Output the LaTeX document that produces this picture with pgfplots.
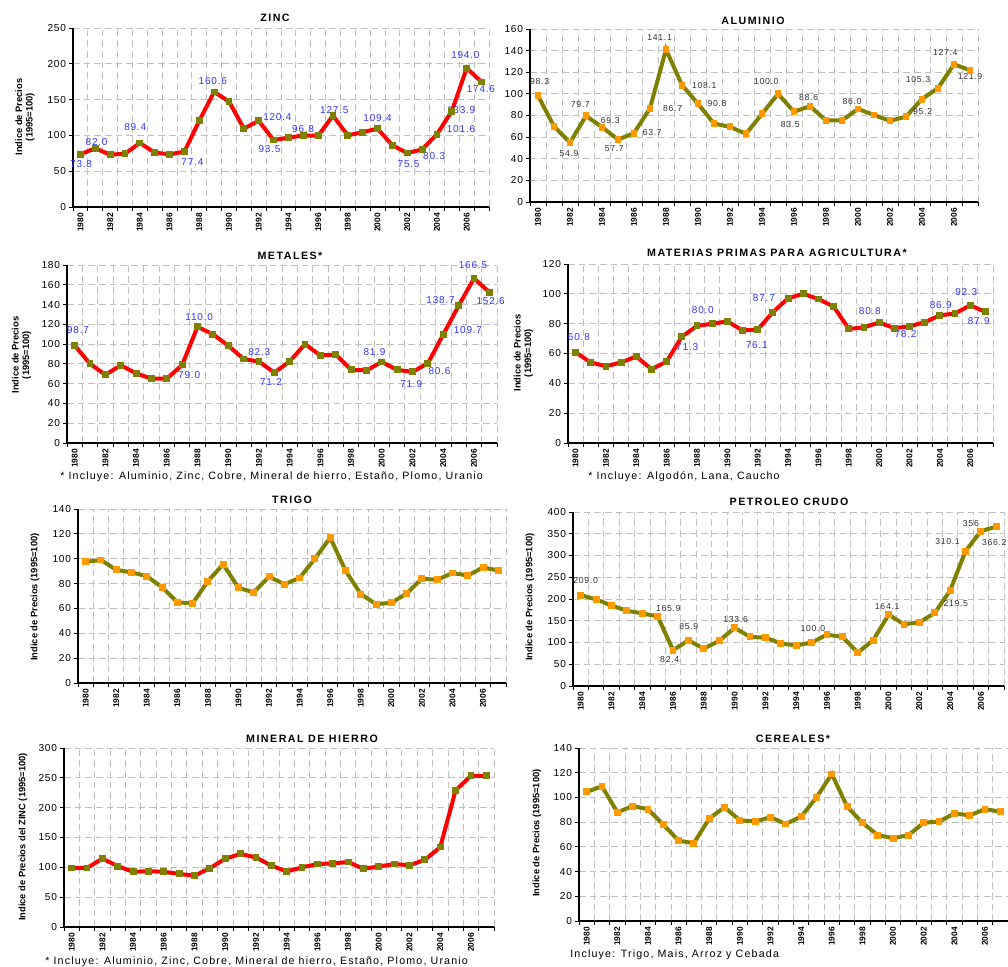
\documentclass[border=0pt]{standalone}
\usepackage{fontspec}
\setmainfont{Liberation Sans}
\newfontfamily\spc[LetterSpace=8]{Liberation Sans}
\newfontfamily\fnf[LetterSpace=11]{Liberation Sans}
\newfontfamily\ttl[LetterSpace=14]{Liberation Sans}
\usepackage{pgfplots}
\pgfplotsset{compat=1.18}

\definecolor{olv}{HTML}{808000}
\definecolor{org}{HTML}{FF9900}
\definecolor{labblue}{HTML}{3333FF}
\definecolor{labgray}{HTML}{303030}
\definecolor{gridc}{HTML}{C0C0C0}

\pgfplotsset{
  panel/.style={
    scale only axis,
    xmin=1979.5, xmax=2007.5, ymin=0,
    axis x line*=bottom, axis y line*=left,
    axis line style={black, line width=0.8pt},
    tick align=outside,
    xtick={1980,1982,...,2006},
    major x tick style={draw=none},
    minor xtick={1979.5,1980.5,...,2007.5},
    minor tick length=3pt, major tick length=3pt,
    every tick/.style={black, line width=0.6pt},
    xminorgrids, ymajorgrids,
    minor grid style={gridc, line width=0.6pt, dash pattern=on 5pt off 3pt},
    major grid style={gridc, line width=0.6pt, dash pattern=on 5pt off 3pt},
    /pgf/number format/1000 sep={},
    /pgf/number format/assume math mode=true,
    xticklabel style={rotate=90, anchor=east, font=\bfseries\fontsize{6.3}{6.3}\selectfont, inner sep=1.5pt},
    yticklabel style={font=\spc\fontsize{7.6}{8}\selectfont, inner sep=2pt},
    clip=false,
  },
  redline/.style={red, line width=3pt, mark=square*, mark size=2.2pt,
    mark options={draw=olv, fill=olv, line width=0pt}},
  olvline/.style={olv, line width=3pt, mark=square*, mark size=2.2pt,
    mark options={draw=org, fill=org, line width=0pt}},
}
\tikzset{
  lb/.style={font=\spc\fontsize{7.5}{8}\selectfont, text=labblue, inner sep=0pt},
  lg/.style={font=\spc\fontsize{6.5}{7}\selectfont, text=labgray, inner sep=0pt},
  tt/.style={font=\ttl\bfseries\fontsize{8}{9}\selectfont, inner sep=0pt},
  yl/.style={font=\bfseries\fontsize{7}{8}\selectfont, rotate=90, align=center, inner sep=0pt},
  fn/.style={font=\fnf\fontsize{8}{9}\selectfont, anchor=west, inner sep=0pt},
}
\newcommand{\lab}[6]{\node[#1, xshift=#5pt, yshift=#6pt] at (axis cs:#2,#3) {#4};}

\begin{document}
\begin{tikzpicture}
\path[use as bounding box] (0,0) rectangle (756pt,-725.25pt);

% ZINC
\begin{axis}[panel, at={(73*0.75pt,-207*0.75pt)}, anchor=south west,
  width=416*0.75pt, height=179*0.75pt, ymax=250, ytick={0,50,...,250}]
\addplot[redline] coordinates {
(1980,73.8) (1981,82.0) (1982,73) (1983,74.5) (1984,89.4) (1985,76) (1986,73.5)
(1987,77.4) (1988,120.5) (1989,160.6) (1990,147.5) (1991,109.5) (1992,120.4)
(1993,93.5) (1994,96.8) (1995,100) (1996,99.5) (1997,127.5) (1998,100)
(1999,104.5) (2000,109.4) (2001,86) (2002,75.5) (2003,80.3) (2004,101.6)
(2005,133.9) (2006,194.0) (2007,174.6)};
\lab{lb}{1980}{73.8}{73.8}{0.5}{-7.5}
\lab{lb}{1981}{82.0}{82.0}{1}{5}
\lab{lb}{1984}{89.4}{89.4}{-3.5}{12}
\lab{lb}{1987}{77.4}{77.4}{6}{-8}
\lab{lb}{1989}{160.6}{160.6}{-1}{8}
\lab{lb}{1992}{120.4}{120.4}{14}{3}
\lab{lb}{1993}{93.5}{93.5}{-3}{-7}
\lab{lb}{1994}{96.8}{96.8}{11}{6.5}
\lab{lb}{1997}{127.5}{127.5}{1}{4.5}
\lab{lb}{2000}{109.4}{109.4}{0}{8}
\lab{lb}{2002}{75.5}{75.5}{1}{-8}
\lab{lb}{2003}{80.3}{80.3}{9}{-5}
\lab{lb}{2004}{101.6}{101.6}{18}{4}
\lab{lb}{2005}{133.9}{133.9}{7}{1}
\lab{lb}{2006}{194.0}{194.0}{-1}{10}
\lab{lb}{2007}{174.6}{174.6}{-0.5}{-5}
\end{axis}

% ALUMINIO
\begin{axis}[panel, at={(530*0.75pt,-202*0.75pt)}, anchor=south west,
  width=448*0.75pt, height=173*0.75pt, ymax=160, ytick={0,20,...,160}]
\addplot[olvline] coordinates {
(1980,98.3) (1981,70) (1982,54.9) (1983,79.7) (1984,69.3) (1985,57.7) (1986,63.7)
(1987,86.7) (1988,141.1) (1989,108.1) (1990,90.8) (1991,72.5) (1992,69.5)
(1993,63) (1994,81.5) (1995,100.0) (1996,83.5) (1997,88.6) (1998,75.5)
(1999,75.5) (2000,86.0) (2001,80.5) (2002,75) (2003,79) (2004,95.2)
(2005,105.3) (2006,127.4) (2007,121.9)};
\lab{lg}{1980}{98.3}{98.3}{1.25}{11}
\lab{lg}{1982}{54.9}{54.9}{-0.75}{-8.25}
\lab{lg}{1983}{79.7}{79.7}{-4.25}{8.75}
\lab{lg}{1984}{69.3}{69.3}{6.25}{5}
\lab{lg}{1985}{57.7}{57.7}{-2.75}{-6.75}
\lab{lg}{1986}{63.7}{63.7}{13.75}{0.5}
\lab{lg}{1987}{86.7}{86.7}{17}{0}
\lab{lg}{1988}{141.1}{141.1}{-4.75}{9.25}
\lab{lg}{1989}{108.1}{108.1}{16.75}{0}
\lab{lg}{1990}{90.8}{90.8}{14.25}{0}
\lab{lg}{1995}{100.0}{100.0}{-8.75}{9.5}
\lab{lg}{1996}{83.5}{83.5}{-2.75}{-9.5}
\lab{lg}{1997}{88.6}{88.6}{-1}{6.5}
\lab{lg}{2000}{86.0}{86.0}{-4.5}{5.75}
\lab{lg}{2004}{95.2}{95.2}{0.5}{-9.25}
\lab{lg}{2005}{105.3}{105.3}{-15}{6.75}
\lab{lg}{2006}{127.4}{127.4}{-6.5}{9}
\lab{lg}{2007}{121.9}{121.9}{0}{-4.75}
\end{axis}

% METALES
\begin{axis}[panel, at={(67*0.75pt,-443*0.75pt)}, anchor=south west,
  width=430*0.75pt, height=178*0.75pt, ymax=180, ytick={0,20,...,180}]
\addplot[redline] coordinates {
(1980,98.7) (1981,80) (1982,69) (1983,78.5) (1984,70.5) (1985,65) (1986,65)
(1987,79.0) (1988,117.5) (1989,110.0) (1990,98.5) (1991,85) (1992,82.3)
(1993,71.2) (1994,82.5) (1995,100) (1996,88.5) (1997,89.5) (1998,74)
(1999,73.5) (2000,81.9) (2001,74) (2002,71.9) (2003,80.6) (2004,109.7)
(2005,138.7) (2006,166.5) (2007,152.6)};
\lab{lb}{1980}{98.7}{98.7}{2.5}{11.5}
\lab{lb}{1988}{117.5}{110.0}{1.25}{7.5}
\lab{lb}{1987}{79.0}{79.0}{5.25}{-7.75}
\lab{lb}{1992}{82.3}{82.3}{0.25}{7.25}
\lab{lb}{1993}{71.2}{71.2}{-2.5}{-7}
\lab{lb}{2000}{81.9}{81.9}{-5.5}{7.5}
\lab{lb}{2002}{71.9}{71.9}{-1}{-8.75}
\lab{lb}{2003}{80.6}{80.6}{8.75}{-5.5}
\lab{lb}{2004}{109.7}{109.7}{18.5}{3.25}
\lab{lb}{2005}{138.7}{138.7}{-13.5}{4.25}
\lab{lb}{2006}{166.5}{166.5}{-0.75}{10}
\lab{lb}{2007}{152.6}{152.6}{1}{-6.75}
\end{axis}

% MATERIAS PRIMAS
\begin{axis}[panel, at={(568*0.75pt,-443*0.75pt)}, anchor=south west,
  width=425*0.75pt, height=179*0.75pt, ymax=120, ytick={0,20,...,120}]
\addplot[redline] coordinates {
(1980,60.8) (1981,54) (1982,51.5) (1983,54) (1984,58) (1985,49.5) (1986,54.5)
(1987,71.3) (1988,78.5) (1989,80.0) (1990,81.5) (1991,75.5) (1992,76.1)
(1993,87.7) (1994,97) (1995,100) (1996,96.5) (1997,91.5) (1998,76.5)
(1999,77.5) (2000,80.8) (2001,77) (2002,78.2) (2003,81) (2004,85.5)
(2005,86.9) (2006,92.3) (2007,87.9)};
\lab{lb}{1980}{60.8}{60.8}{2.5}{11.25}
\lab{lb}{1987}{71.3}{71.3}{4}{-7.5}
\lab{lb}{1989}{80.0}{80.0}{-7}{10.5}
\lab{lb}{1992}{76.1}{76.1}{-0.75}{-12}
\lab{lb}{1993}{87.7}{87.7}{-6.75}{10.5}
\lab{lb}{2000}{80.8}{80.8}{-7}{8.25}
\lab{lb}{2002}{78.2}{78.2}{-3}{-6}
\lab{lb}{2005}{86.9}{86.9}{-10.75}{6.5}
\lab{lb}{2006}{92.3}{92.3}{-3}{9.75}
\lab{lb}{2007}{87.9}{87.9}{-5}{-6.75}
\end{axis}

% TRIGO
\begin{axis}[panel, at={(78*0.75pt,-683*0.75pt)}, anchor=south west,
  width=428*0.75pt, height=174*0.75pt, ymax=140, ytick={0,20,...,140}]
\addplot[olvline] coordinates {
(1980,97.5) (1981,99) (1982,91) (1983,89) (1984,86) (1985,77) (1986,65)
(1987,64) (1988,82) (1989,95.5) (1990,76.5) (1991,73) (1992,85.5)
(1993,79.5) (1994,84.5) (1995,100) (1996,117) (1997,90.5) (1998,71.5)
(1999,63.5) (2000,64.5) (2001,72) (2002,84) (2003,83) (2004,88.5)
(2005,86.5) (2006,93) (2007,90.5)};
\end{axis}

% PETROLEO CRUDO
\begin{axis}[panel, at={(573*0.75pt,-686*0.75pt)}, anchor=south west,
  width=431*0.75pt, height=174*0.75pt, ymax=400, ytick={0,50,...,400}]
\addplot[olvline] coordinates {
(1980,209.0) (1981,199) (1982,185) (1983,173) (1984,167) (1985,160) (1986,82.4)
(1987,105) (1988,86) (1989,104) (1990,133.6) (1991,113) (1992,111)
(1993,98) (1994,93) (1995,100) (1996,118) (1997,113) (1998,77)
(1999,105) (2000,164.1) (2001,142) (2002,146) (2003,168) (2004,219.5)
(2005,310.1) (2006,356) (2007,366.2)};
\lab{lg}{1980}{209.0}{209.0}{3.75}{11}
\lab{lg}{1985}{160}{165.9}{8}{6.25}
\lab{lg}{1986}{82.4}{82.4}{-2.5}{-7.25}
\lab{lg}{1987}{105}{85.9}{0.25}{10}
\lab{lg}{1990}{133.6}{133.6}{0.75}{6.25}
\lab{lg}{1995}{100}{100.0}{1}{10.75}
\lab{lg}{2000}{164.1}{164.1}{-1}{6}
\lab{lg}{2004}{219.5}{219.5}{4.25}{-10}
\lab{lg}{2005}{310.1}{310.1}{-13.5}{7.25}
\lab{lg}{2006}{356}{356}{-7.5}{5.75}
\lab{lg}{2007}{366.2}{366.2}{-1.5}{-11.5}
\end{axis}

% MINERAL DE HIERRO
\begin{axis}[panel, at={(64*0.75pt,-927*0.75pt)}, anchor=south west,
  width=430*0.75pt, height=179*0.75pt, ymax=300, ytick={0,50,...,300}]
\addplot[redline] coordinates {
(1980,99) (1981,99) (1982,114.5) (1983,102) (1984,92.5) (1985,93.5) (1986,92.5)
(1987,89) (1988,86) (1989,98.5) (1990,114.5) (1991,122.5) (1992,116.5)
(1993,103) (1994,93) (1995,100) (1996,105.5) (1997,106.5) (1998,109)
(1999,97.5) (2000,101.5) (2001,105.5) (2002,103.5) (2003,112.5) (2004,134)
(2005,229) (2006,253.5) (2007,253.5)};
\end{axis}

% CEREALES
\begin{axis}[panel, at={(579*0.75pt,-921*0.75pt)}, anchor=south west,
  width=429*0.75pt, height=173*0.75pt, ymax=140, ytick={0,20,...,140}]
\addplot[olvline] coordinates {
(1980,104.5) (1981,109) (1982,88) (1983,93) (1984,90.5) (1985,78) (1986,65)
(1987,63) (1988,83) (1989,92) (1990,81.5) (1991,80.5) (1992,84)
(1993,78.5) (1994,84.5) (1995,100) (1996,119) (1997,92.5) (1998,79.5)
(1999,69.5) (2000,67) (2001,69.5) (2002,79.5) (2003,80.5) (2004,87)
(2005,85.5) (2006,90.5) (2007,88.5)};
\end{axis}

% titles, axis titles, notes (positions in pixels of the reference)
\begin{scope}[x=0.75pt, y=-0.75pt]
\node[tt] at (275,18) {ZINC};
\node[tt] at (753,21) {ALUMINIO};
\node[tt] at (290,256) {METALES*};
\node[tt] at (777,253) {MATERIAS PRIMAS PARA AGRICULTURA*};
\node[tt] at (292,500) {TRIGO};
\node[tt] at (789,502) {PETROLEO CRUDO};
\node[tt] at (312,739) {MINERAL DE HIERRO};
\node[tt] at (793,739) {CEREALES*};
\node[yl] at (25,117) {Indice de Precios\\(1995=100)};
\node[yl] at (21.5,355) {Indice de Precios\\(1995=100)};
\node[yl] at (523.5,353) {Indice de Precios\\(1995=100)};
\node[yl] at (35,597) {Indice de Precios (1995=100)};
\node[yl] at (530,597) {Indice de Precios (1995=100)};
\node[yl] at (23,837) {Indice de Precios del ZINC (1995=100)};
\node[yl] at (537,833) {Indice de Precios (1995=100)};
\node[fn] at (60,477) {* Incluye: Aluminio, Zinc, Cobre, Mineral de hierro, Estaño, Plomo, Uranio};
\node[fn] at (588,477) {* Incluye: Algodón, Lana, Caucho};
\node[fn] at (45,962) {* Incluye: Aluminio, Zinc, Cobre, Mineral de hierro, Estaño, Plomo, Uranio};
\node[fn] at (570,955) {Incluye: Trigo, Mais, Arroz y Cebada};
\end{scope}
\end{tikzpicture}
\end{document}
